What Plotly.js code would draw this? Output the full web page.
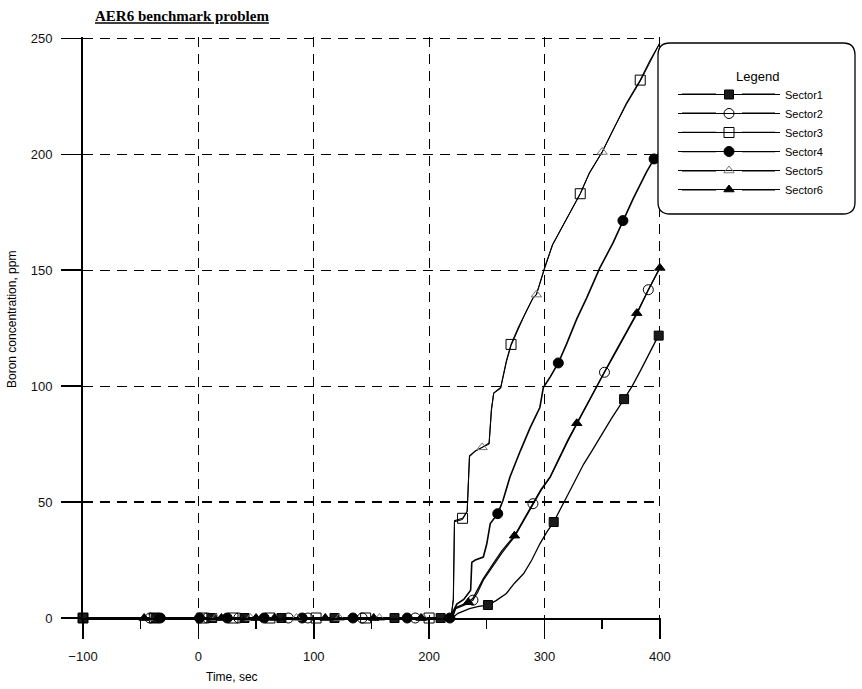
<!DOCTYPE html>
<html>
<head>
<meta charset="utf-8">
<script src="https://cdn.plot.ly/plotly-3.0.1.min.js"></script>
<style>html,body{margin:0;padding:0;background:#fff;}#chart{width:862px;height:689px;}</style>
</head>
<body>
<div id="chart"></div>
<script>
// ---- Data ----
const seriesNames = ['Sector1', 'Sector2', 'Sector3', 'Sector4', 'Sector5', 'Sector6'];

// Sector1 (filled squares)
const s1x = [-100, 220, 225, 235, 243, 251, 258, 267, 274, 282, 289, 296, 302, 308, 319, 326, 334, 341, 348, 358, 369, 376, 383, 391, 399, 400];
const s1y = [0, 0, 2, 4, 5, 5.6, 7.5, 10.6, 15, 19.2, 25, 32, 37, 41.4, 52, 59, 66.4, 72, 78, 86, 94.4, 100, 106.5, 114, 121.8, 123];
const s1mx = [-100, -37, 12, 40, 72, 118, 170, 210, 251, 308, 369, 399];
const s1my = [0, 0, 0, 0, 0, 0, 0, 0, 5.6, 41.4, 94.4, 121.8];

// Sector2 (open circles)
const s2x = [-100, 220, 223, 230, 234, 238, 242, 247, 255, 263, 274, 282, 290, 297, 305, 312, 320, 328, 336, 344, 352, 360, 370, 380, 390, 400];
const s2y = [0, 0, 4, 5.5, 6.3, 7.7, 11, 16.3, 22, 28, 35, 42, 49.3, 55, 60.7, 68, 76, 83.6, 91, 99, 106, 113, 122, 131, 141.6, 151];
const s2mx = [-42, 8, 35, 78, 95, 142, 188, 238, 290, 352, 390];
const s2my = [0, 0, 0, 0, 0, 0, 0, 7.7, 49.3, 106, 141.6];

// Sector3 (open squares)
const s3x = [-100, 219, 221, 222, 229, 233, 235, 240, 246, 252, 254, 256, 262, 267, 271, 277, 283, 290, 293, 300, 307, 319, 331, 339, 350, 360, 371, 383, 391, 400];
const s3y = [0, 0, 8, 42, 43, 46, 70, 72, 73.6, 75.5, 90, 97, 99.4, 111, 118, 125, 131, 138, 139.5, 151, 161, 172, 183, 192, 201, 211, 222, 232, 240, 248];
const s3mx = [-100, -38, 3, 30, 62, 102, 145, 200, 229, 271, 331, 383];
const s3my = [0, 0, 0, 0, 0, 0, 0, 0, 43, 118, 183, 232];

// Sector4 (filled circles)
const s4x = [-100, 218, 221, 224, 230, 236, 237, 240, 247, 250, 253, 259.5, 264, 270, 279, 287.5, 296, 299, 305, 312, 319, 328, 336.5, 348, 359.6, 368, 377, 388.5, 395, 400];
const s4y = [0, 0, 3, 6, 8, 12, 24, 25, 26.3, 32, 40.7, 45, 50.7, 60.7, 72, 82, 90.8, 99.4, 104, 110, 118, 129, 138, 151, 162, 171.4, 181, 192.4, 198, 201];
const s4mx = [-33, 1, 25, 57, 90, 134, 181, 218, 259.5, 312, 368, 395];
const s4my = [0, 0, 0, 0, 0, 0, 0, 0, 45, 110, 171.4, 198];

// Sector5 (open triangles)
const s5x = [-100, 219, 221, 222, 229, 233, 235, 240, 246, 252, 254, 256, 262, 267, 271, 277, 283, 290, 293, 300, 307, 319, 331, 339, 350, 360, 371, 383, 391, 400];
const s5y = [0, 0, 8, 41.5, 42.5, 46, 69.5, 72, 73.6, 75, 89.5, 97, 99, 110.5, 117.5, 124.5, 131, 138, 139.5, 150.5, 161, 172, 183, 192, 201, 211, 221.5, 231.5, 239.5, 248];
const s5mx = [-44, 15, 45, 85, 122, 157, 195, 246, 293, 350];
const s5my = [0, 0, 0, 0, 0, 0, 0, 73.6, 139.5, 201];

// Sector6 (filled triangles)
const s6x = [-100, 220, 223, 230, 234, 238, 242, 247, 255, 263, 274, 282, 290, 297, 305, 312, 320, 328, 336, 344, 352, 360, 370, 380, 390, 400];
const s6y = [0, 0, 4.5, 6, 6.8, 8.5, 12, 17, 23, 29, 35.5, 42.5, 49.5, 55.5, 61, 68.5, 76.5, 84, 91.5, 99, 106.5, 113.5, 122.5, 131.5, 141.5, 151];
const s6mx = [-47, 20, 50, 66, 110, 152, 193, 234, 274, 328, 380, 400];
const s6my = [0, 0, 0, 0, 0, 0, 0, 6.8, 35.5, 84, 131.5, 151];

// ---- Styles ----
const markerStyles = [
  {symbol: 'square', size: 9, color: '#1a1a1a', line: {color: '#000', width: 1}},
  {symbol: 'circle-open', size: 10, color: '#000', line: {color: '#000', width: 1}},
  {symbol: 'square-open', size: 10, color: '#000', line: {color: '#000', width: 1}},
  {symbol: 'circle', size: 10, color: '#000', line: {color: '#000', width: 1}},
  {symbol: 'triangle-up-open', size: 9, color: '#777', line: {color: '#777', width: 1}},
  {symbol: 'triangle-up', size: 9, color: '#000', line: {color: '#000', width: 1}}
];
const lineWidths = [1.3, 1.2, 1.1, 1.6, 1.0, 1.3];

const lineX = [s1x, s2x, s3x, s4x, s5x, s6x];
const lineY = [s1y, s2y, s3y, s4y, s5y, s6y];
const mX = [s1mx, s2mx, s3mx, s4mx, s5mx, s6mx];
const mY = [s1my, s2my, s3my, s4my, s5my, s6my];

const traces = [];
for (let i = 0; i < 6; i++) {
  traces.push({
    x: lineX[i], y: lineY[i], type: 'scatter', mode: 'lines',
    line: {color: '#000', width: lineWidths[i]},
    showlegend: false, legendgroup: seriesNames[i], cliponaxis: false, hoverinfo: 'skip'
  });
}
for (let i = 0; i < 6; i++) {
  traces.push({
    x: mX[i], y: mY[i], type: 'scatter', mode: 'markers',
    marker: markerStyles[i],
    showlegend: false, legendgroup: seriesNames[i], cliponaxis: false, hoverinfo: 'skip'
  });
}
for (let i = 0; i < 6; i++) {
  traces.push({
    x: [null], y: [null], type: 'scatter', mode: 'lines+markers',
    name: seriesNames[i], legendgroup: seriesNames[i],
    line: {color: '#000', width: 1.2},
    marker: markerStyles[i]
  });
}

// plot area geometry in pixels (for paper-coordinate decorations)
const PL = 83, PT = 37, PW = 578, PH = 581;
const px2x = p => (p - PL) / PW;
const py2y = p => (PT + PH - p) / PH;

// rounded legend box
const bx0 = px2x(658), bx1 = px2x(855), byt = py2y(43), byb = py2y(214);
const rx = 12 / PW, ry = 12 / PH;
const boxPath = `M${bx0+rx},${byt} L${bx1-rx},${byt} Q${bx1},${byt} ${bx1},${byt-ry} L${bx1},${byb+ry} Q${bx1},${byb} ${bx1-rx},${byb} L${bx0+rx},${byb} Q${bx0},${byb} ${bx0},${byb+ry} L${bx0},${byt-ry} Q${bx0},${byt} ${bx0+rx},${byt} Z`;

const shapes = [{
  type: 'path', xref: 'paper', yref: 'paper', path: boxPath,
  line: {color: '#000', width: 1.3}, fillcolor: '#fff', layer: 'above'
}];
// extend legend sample lines on both sides (decoration)
for (let i = 0; i < 6; i++) {
  const yy = py2y(94 + 19.2 * i);
  shapes.push({type: 'line', xref: 'paper', yref: 'paper', x0: px2x(682), x1: px2x(716), y0: yy, y1: yy,
    line: {color: '#000', width: 1.2}, layer: 'above'});
  shapes.push({type: 'line', xref: 'paper', yref: 'paper', x0: px2x(742), x1: px2x(775), y0: yy, y1: yy,
    line: {color: '#000', width: 1.2}, layer: 'above'});
}

const axisFont = {family: 'Liberation Sans, Arial, sans-serif', size: 13, color: '#111'};

const layout = {
  width: 862, height: 689,
  margin: {l: PL, r: 862 - PL - PW, t: PT, b: 689 - PT - PH},
  paper_bgcolor: '#fff', plot_bgcolor: '#fff',
  showlegend: true,
  title: {
    text: '<b><u>AER6 benchmark problem</u></b>',
    font: {family: 'Liberation Serif, Times New Roman, serif', size: 15, color: '#000'},
    x: 95 / 862, xref: 'container', xanchor: 'left',
    y: 1 - 16 / 689, yref: 'container', yanchor: 'middle'
  },
  xaxis: {
    range: [-100, 401], dtick: 100, tick0: 0, tickmode: 'linear',
    showgrid: true, gridcolor: '#000', gridwidth: 1.2, griddash: '10px,7px',
    showline: true, linecolor: '#000', linewidth: 2,
    ticks: 'outside', ticklen: 19, tickwidth: 1.6, tickcolor: '#000',
    ticklabelstandoff: 6,
    minor: {ticks: 'outside', ticklen: 9, dtick: 50, tick0: 0, tickwidth: 1.4, tickcolor: '#000', showgrid: false},
    tickfont: axisFont, zeroline: false, fixedrange: true
  },
  yaxis: {
    range: [0, 250.6], dtick: 50, tick0: 0, tickmode: 'linear',
    showgrid: true, gridcolor: '#000', gridwidth: 1.2, griddash: '10px,7px',
    showline: true, linecolor: '#000', linewidth: 2,
    ticks: 'outside', ticklen: 20, tickwidth: 1.6, tickcolor: '#000',
    ticklabelstandoff: 6,
    tickfont: axisFont, zeroline: false, fixedrange: true
  },
  legend: {
    x: px2x(673), xanchor: 'left', y: py2y(80), yanchor: 'top',
    bgcolor: 'rgba(0,0,0,0)', borderwidth: 0,
    font: {family: 'Liberation Sans, Arial, sans-serif', size: 11, color: '#000'},
    itemwidth: 102, tracegroupgap: 0
  },
  shapes: shapes,
  annotations: [
    {text: 'Legend', xref: 'paper', yref: 'paper', x: px2x(757), y: py2y(77),
     xanchor: 'center', yanchor: 'middle', showarrow: false,
     font: {family: 'Liberation Sans, Arial, sans-serif', size: 13, color: '#000'}},
    {text: 'Time, sec', xref: 'paper', yref: 'paper', x: px2x(232), y: py2y(677),
     xanchor: 'center', yanchor: 'middle', showarrow: false,
     font: {family: 'Liberation Sans, Arial, sans-serif', size: 12, color: '#000'}},
    {text: 'Boron concentration, ppm', xref: 'paper', yref: 'paper', x: px2x(12), y: py2y(320),
     xanchor: 'center', yanchor: 'middle', textangle: -90, showarrow: false,
     font: {family: 'Liberation Sans, Arial, sans-serif', size: 12, color: '#000'}}
  ]
};

Plotly.newPlot('chart', traces, layout, {displayModeBar: false, staticPlot: true});
</script>
</body>
</html>
